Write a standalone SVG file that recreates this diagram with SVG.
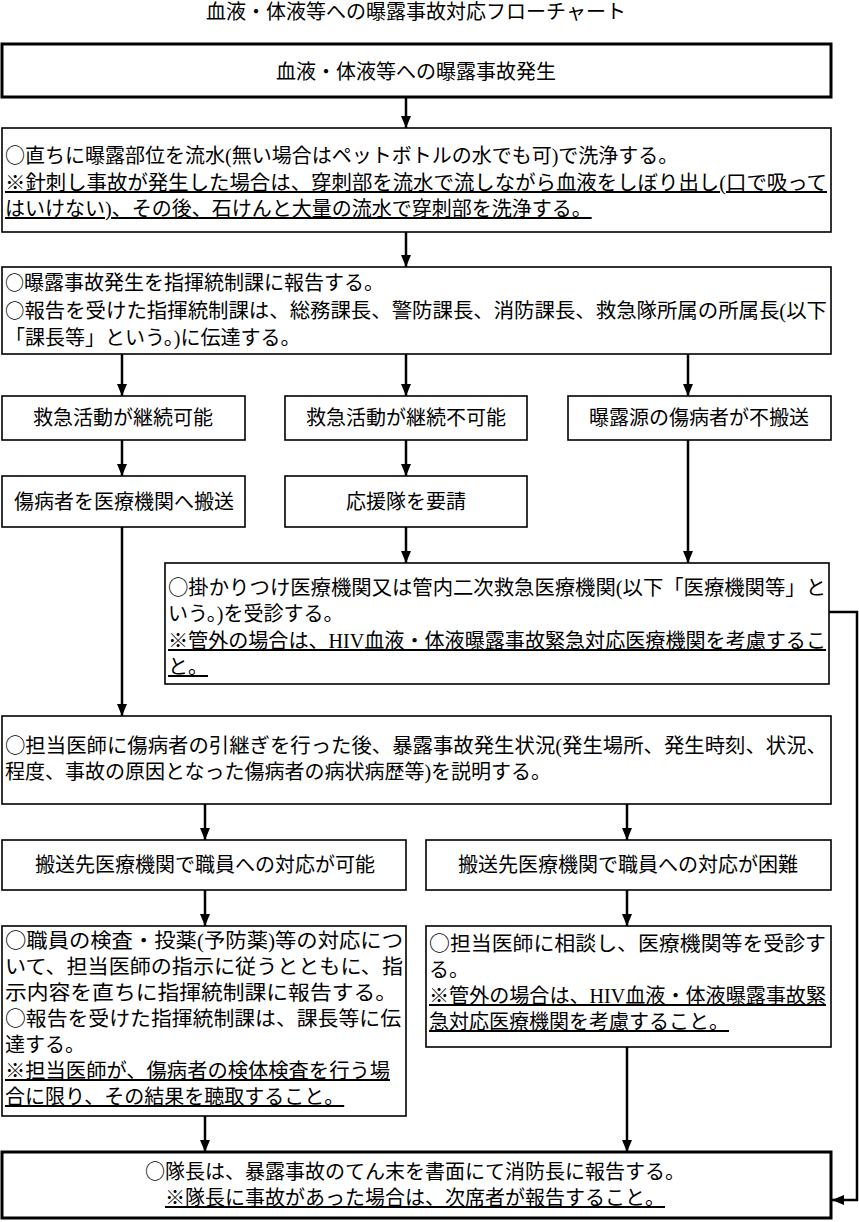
<svg xmlns="http://www.w3.org/2000/svg" width="859" height="1222" viewBox="0 0 859 1222">
<style>
text{font-family:'Liberation Serif','Noto Sans CJK JP',serif;font-size:20px;fill:#000}
.cj{font-family:'Noto Sans CJK JP',sans-serif}
.c{text-anchor:middle}
.u{text-decoration:underline}
.box{fill:#fff;stroke:#000;stroke-width:1.6}
.thick{fill:#fff;stroke:#000;stroke-width:3}
.ln{fill:none;stroke:#000;stroke-width:2.5}
</style>
<defs>
<marker id="ah" markerUnits="userSpaceOnUse" markerWidth="12" markerHeight="10" refX="12" refY="5" orient="auto">
<path d="M0,0 L12,5 L0,10 z" fill="#000"/>
</marker>
</defs>
<rect width="859" height="1222" fill="#fff"/>
<text id="title" class="c" x="416" y="19">血液・体液等への曝露事故対応フローチャート</text>

<g id="connectors">
<line class="ln" x1="406" y1="97" x2="406" y2="128" marker-end="url(#ah)"/>
<line class="ln" x1="406" y1="232" x2="406" y2="267" marker-end="url(#ah)"/>
<line class="ln" x1="122" y1="354" x2="122" y2="396" marker-end="url(#ah)"/>
<line class="ln" x1="406" y1="354" x2="406" y2="396" marker-end="url(#ah)"/>
<line class="ln" x1="688" y1="354" x2="688" y2="396" marker-end="url(#ah)"/>
<line class="ln" x1="122" y1="440" x2="122" y2="476" marker-end="url(#ah)"/>
<line class="ln" x1="406" y1="440" x2="406" y2="476" marker-end="url(#ah)"/>
<line class="ln" x1="122" y1="527" x2="122" y2="716" marker-end="url(#ah)"/>
<line class="ln" x1="406" y1="527" x2="406" y2="563" marker-end="url(#ah)"/>
<line class="ln" x1="688" y1="440" x2="688" y2="563" marker-end="url(#ah)"/>
<polyline class="ln" points="829,612 857,612 857,1200 832,1200" marker-end="url(#ah)"/>
<line class="ln" x1="205" y1="804" x2="205" y2="840" marker-end="url(#ah)"/>
<line class="ln" x1="627" y1="804" x2="627" y2="840" marker-end="url(#ah)"/>
<line class="ln" x1="205" y1="890" x2="205" y2="926" marker-end="url(#ah)"/>
<line class="ln" x1="627" y1="890" x2="627" y2="926" marker-end="url(#ah)"/>
<line class="ln" x1="205" y1="1116" x2="205" y2="1152" marker-end="url(#ah)"/>
<line class="ln" x1="627" y1="1047" x2="627" y2="1152" marker-end="url(#ah)"/>
</g>

<g id="n1">
<rect class="thick" x="2" y="44" width="829" height="53"/>
<text class="c" x="416" y="79">血液・体液等への曝露事故発生</text>
</g>

<g id="n2">
<rect class="box" x="2" y="128" width="829" height="104"/>
<text x="5" y="163"><tspan class="cj">○</tspan>直ちに曝露部位を流水(無い場合はペットボトルの水でも可)で洗浄する。</text>
<text class="u" x="5" y="190" textLength="822" lengthAdjust="spacingAndGlyphs">※針刺し事故が発生した場合は、穿刺部を流水で流しながら血液をしぼり出し(口で吸って</text>
<text class="u" x="5" y="216">はいけない)、その後、石けんと大量の流水で穿刺部を洗浄する。</text>
</g>

<g id="n3">
<rect class="box" x="2" y="267" width="829" height="87"/>
<text x="5" y="290"><tspan class="cj" font-size="19">○</tspan>曝露事故発生を指揮統制課に報告する。</text>
<text x="5" y="318" textLength="822" lengthAdjust="spacingAndGlyphs"><tspan class="cj" font-size="19">○</tspan>報告を受けた指揮統制課は、総務課長、警防課長、消防課長、救急隊所属の所属長(以下</text>
<text x="5" y="345">「課長等」という。)に伝達する。</text>
</g>

<g id="nA">
<rect class="box" x="2" y="396" width="243" height="44"/>
<text class="c" x="123" y="425">救急活動が継続可能</text>
</g>
<g id="nB">
<rect class="box" x="285" y="396" width="242" height="44"/>
<text class="c" x="406" y="425">救急活動が継続不可能</text>
</g>
<g id="nC">
<rect class="box" x="568" y="396" width="263" height="44"/>
<text class="c" x="699" y="425">曝露源の傷病者が不搬送</text>
</g>
<g id="nD">
<rect class="box" x="2" y="476" width="243" height="51"/>
<text class="c" x="124" y="509">傷病者を医療機関へ搬送</text>
</g>
<g id="nE">
<rect class="box" x="285" y="476" width="242" height="51"/>
<text class="c" x="406" y="509">応援隊を要請</text>
</g>

<g id="nF">
<rect class="box" x="165" y="563" width="664" height="121"/>
<text x="168" y="595" textLength="658" lengthAdjust="spacingAndGlyphs"><tspan class="cj">○</tspan>掛かりつけ医療機関又は管内二次救急医療機関(以下「医療機関等」と</text>
<text x="168" y="621">いう。)を受診する。</text>
<text class="u" x="168" y="648" textLength="658" lengthAdjust="spacingAndGlyphs">※管外の場合は、HIV血液・体液曝露事故緊急対応医療機関を考慮するこ</text>
<text class="u" x="168" y="674">と。</text>
</g>

<g id="nG">
<rect class="box" x="2" y="716" width="829" height="88"/>
<text x="5" y="753" textLength="822" lengthAdjust="spacingAndGlyphs"><tspan class="cj">○</tspan>担当医師に傷病者の引継ぎを行った後、暴露事故発生状況(発生場所、発生時刻、状況、</text>
<text x="5" y="779">程度、事故の原因となった傷病者の病状病歴等)を説明する。</text>
</g>

<g id="nH">
<rect class="box" x="2" y="840" width="404" height="50"/>
<text class="c" x="205" y="872">搬送先医療機関で職員への対応が可能</text>
</g>
<g id="nI">
<rect class="box" x="426" y="840" width="405" height="50"/>
<text class="c" x="628" y="872">搬送先医療機関で職員への対応が困難</text>
</g>

<g id="nJ">
<rect class="box" x="2" y="926" width="404" height="190"/>
<text x="5" y="948" textLength="398" lengthAdjust="spacingAndGlyphs"><tspan class="cj">○</tspan>職員の検査・投薬(予防薬)等の対応につ</text>
<text x="5" y="974" textLength="398" lengthAdjust="spacingAndGlyphs">いて、担当医師の指示に従うとともに、指</text>
<text x="5" y="1000" textLength="392" lengthAdjust="spacingAndGlyphs">示内容を直ちに指揮統制課に報告する。</text>
<text x="5" y="1026" textLength="396" lengthAdjust="spacingAndGlyphs"><tspan class="cj">○</tspan>報告を受けた指揮統制課は、課長等に伝</text>
<text x="5" y="1052">達する。</text>
<text class="u" x="5" y="1078" textLength="385" lengthAdjust="spacingAndGlyphs">※担当医師が、傷病者の検体検査を行う場</text>
<text class="u" x="5" y="1104">合に限り、その結果を聴取すること。</text>
</g>

<g id="nK">
<rect class="box" x="426" y="926" width="405" height="121"/>
<text x="429" y="951" textLength="397" lengthAdjust="spacingAndGlyphs"><tspan class="cj">○</tspan>担当医師に相談し、医療機関等を受診す</text>
<text x="429" y="977">る。</text>
<text class="u" x="429" y="1003" textLength="397" lengthAdjust="spacingAndGlyphs">※管外の場合は、HIV血液・体液曝露事故緊</text>
<text class="u" x="429" y="1029">急対応医療機関を考慮すること。</text>
</g>

<g id="nL">
<rect class="thick" x="2" y="1152" width="829" height="66"/>
<text class="c" x="415" y="1179"><tspan class="cj">○</tspan>隊長は、暴露事故のてん末を書面にて消防長に報告する。</text>
<text class="c u" x="415" y="1205">※隊長に事故があった場合は、次席者が報告すること。</text>
</g>
</svg>
